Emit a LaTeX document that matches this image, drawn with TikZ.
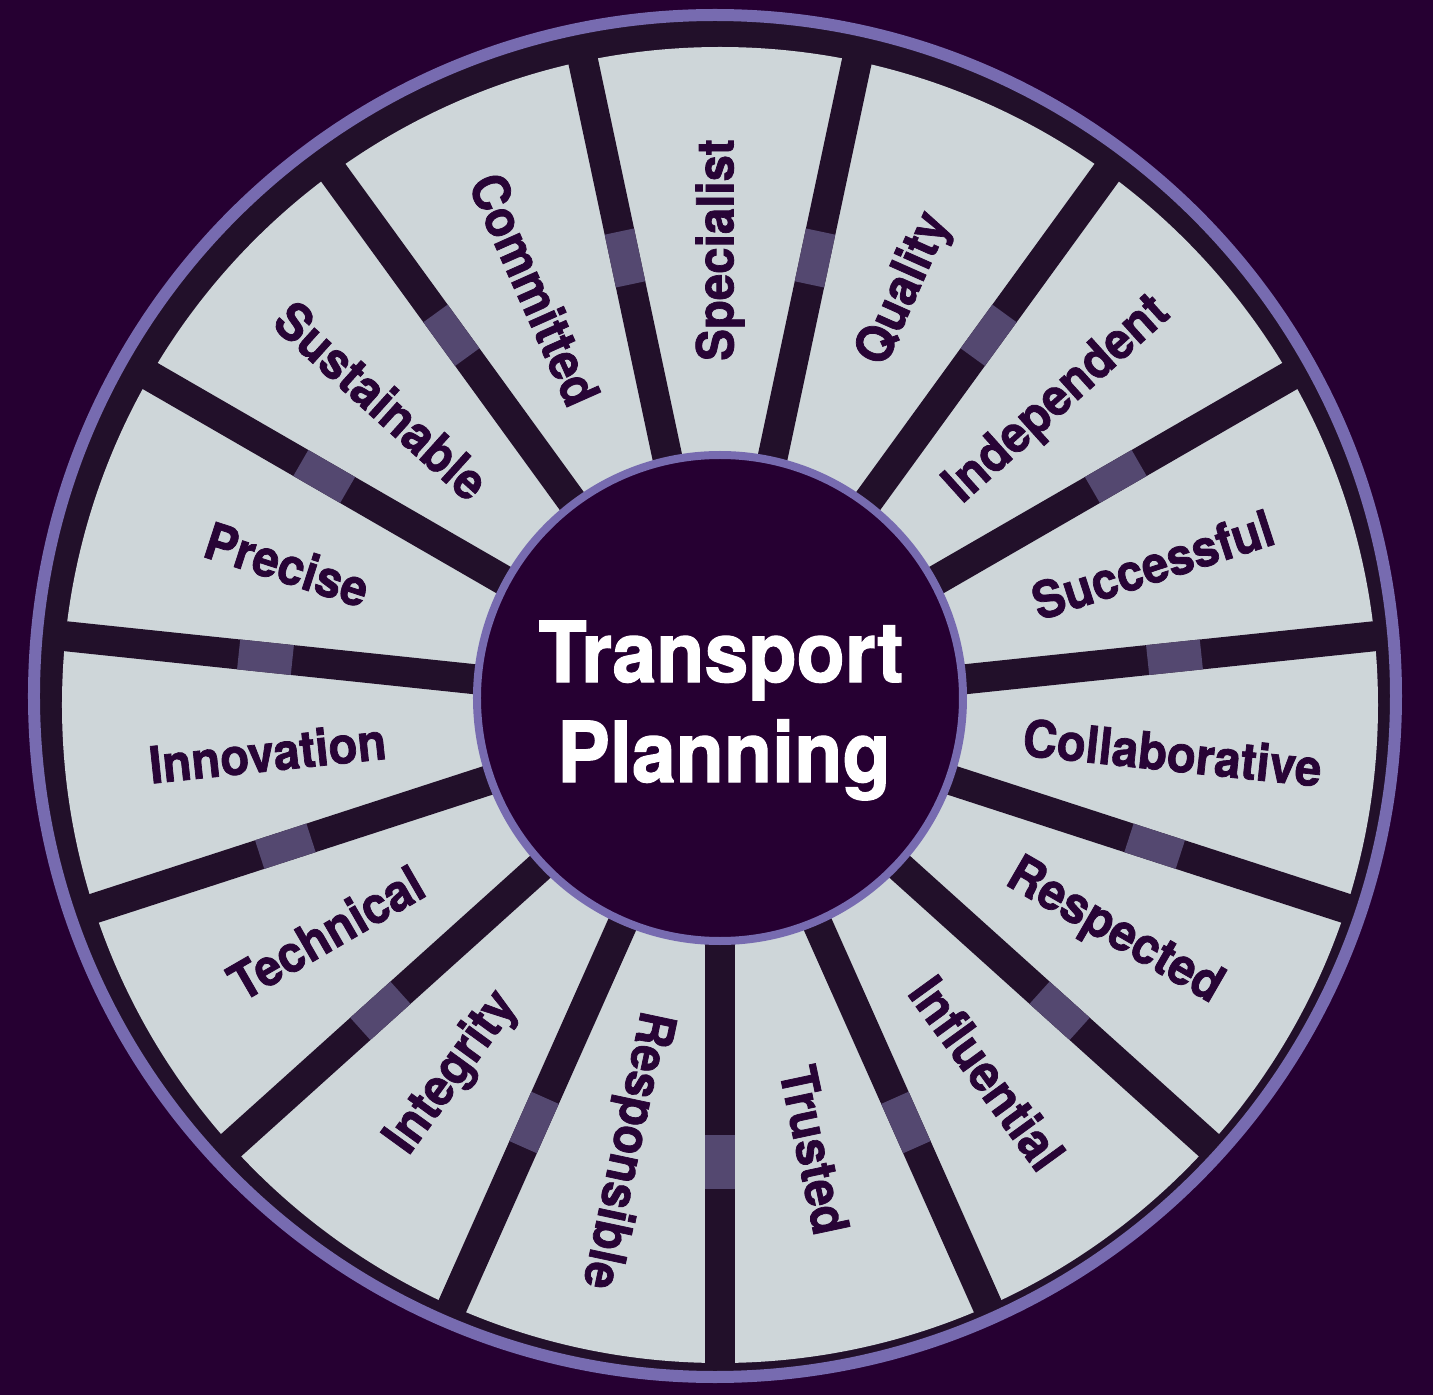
\documentclass[tikz,border=0pt]{standalone}
\usepackage{fontspec}
\newfontfamily\wheelfont[BoldFeatures={FakeBold=1.5}]{TeX Gyre Heros}
\definecolor{bg}{RGB}{38,0,50}
\definecolor{spoke}{RGB}{34,16,42}
\definecolor{panel}{RGB}{206,214,217}
\definecolor{lav}{RGB}{119,107,176}
\definecolor{patch}{RGB}{84,72,112}
\definecolor{ink}{RGB}{40,4,54}
\begin{document}
\begin{tikzpicture}[x=1pt,y=1pt,
  spokeline/.style={line width=30pt, draw=spoke},
  patchline/.style={line width=30pt, draw=patch},
  word/.style={font=\wheelfont\bfseries\fontsize{51}{60}\selectfont, text=ink, inner sep=0pt, anchor=center},
  title/.style={font=\wheelfont\bfseries\fontsize{84}{100}\selectfont, text=white, inner sep=0pt, anchor=base, xscale=0.94}]
% background
\fill[bg] (-720,-690) rectangle (713,705);
\useasboundingbox (-720,-690) rectangle (713,705);
% dark disc inside the outer ring
\fill[spoke] (-5,9) circle (681);
% light panels
\fill[panel] (0,0) circle (658);
% spokes with their lighter middle band
\foreach \a in {102,78,...,-234} {
  \draw[spokeline] (\a:200) -- (\a:672);
  \draw[patchline] (\a:430) -- (\a:484);
}
% outer ring
\draw[lav, line width=12pt] (-5,9) circle (681);
% hub
\node[circle, draw=lav, line width=8pt, fill=bg, minimum size=486pt, inner sep=0pt] (hub) at (0,7) {};
\node[title] (t1) at (1,23) {Transport};
\node[title] (t2) at (4,-77) {Planning};
% values around the wheel
\foreach \a/\r/\w [count=\i] in {90/90/Specialist, 66/66/Quality, 42/42/Independent,
    18/18/Successful, -6/-6/Collaborative, -30/-30/Respected, -54/-54/Influential,
    -78/-78/Trusted, -102/-102/Responsible, -126/54/Integrity, -150/30/Technical,
    -174/6/Innovation, 162/-18/Precise, 138/-42/Sustainable, 114/-66/Committed} {
  \node[word, rotate=\r, xscale=0.93] (word\i) at (\a:455) {\w};
}
\end{tikzpicture}
\end{document}
